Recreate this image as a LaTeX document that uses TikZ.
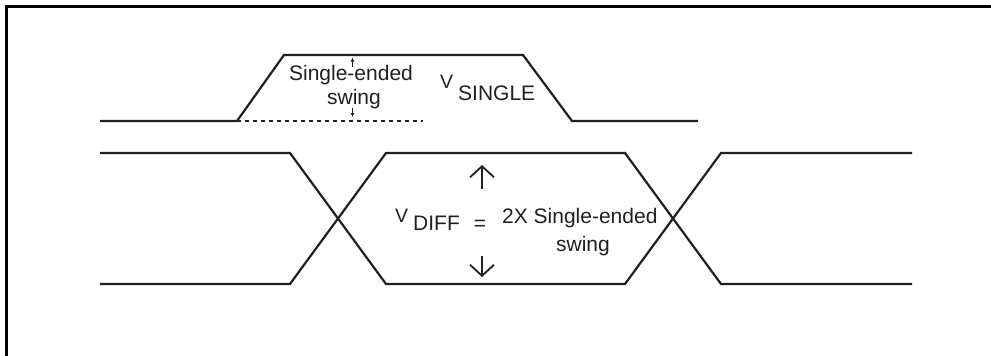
\documentclass[tikz,border=0pt]{standalone}
\usepackage{fontspec}
\setmainfont{Liberation Sans}
\usetikzlibrary{arrows.meta}
\definecolor{ink}{RGB}{35,31,32}
\tikzset{
  sig/.style={draw=ink, line width=2.2pt, line join=miter},
  frm/.style={draw=black, line width=2.6pt},
  dsh/.style={draw=ink, line width=1.1pt, dash pattern=on 4pt off 4pt},
  tinyarr/.style={draw=ink, line width=1pt, -{Latex[length=4pt,width=4pt]}},
  bigarr/.style={draw=ink, line width=1.8pt, -{Straight Barb[length=11pt,width=24pt]}},
  lbl/.style={inner sep=0pt, text=ink, font=\fontsize{21}{24}\selectfont},
  vlbl/.style={inner sep=0pt, text=ink, font=\fontsize{19.5}{22}\selectfont},
}
\begin{document}
\begin{tikzpicture}[x=1pt,y=-1pt]
\useasboundingbox (0,0) rectangle (991,356);
% frame (only top and left visible)
\draw[frm] (6.3,356) -- (6.3,6.3) -- (991,6.3);
% single-ended waveform
\coordinate (s0) at (100,121);
\coordinate (s1) at (237,121);
\coordinate (s2) at (284,55);
\coordinate (s3) at (523,55);
\coordinate (s4) at (572,121);
\coordinate (s5) at (698,121);
\draw[sig] (s0) -- (s1) -- (s2) -- (s3) -- (s4) -- (s5);
\coordinate (d1) at (423,121);
\draw[dsh] (s1) -- (d1);
% tiny swing arrows
\coordinate (ta0) at (352.5,67);
\coordinate (ta1) at (352.5,57.5);
\coordinate (tb0) at (352.5,108);
\coordinate (tb1) at (352.5,117);
\draw[tinyarr] (ta0) -- (ta1);
\draw[tinyarr] (tb0) -- (tb1);
\node[lbl, anchor=base] (se1) at (351,80.5) {Single-ended};
\node[lbl, anchor=base] (se2) at (354,104) {swing};
\node[vlbl, anchor=base west] (vs) at (440,88) {V};
\node[lbl, anchor=base west] (vss) at (458,100) {SINGLE};
% differential waveform
\coordinate (a0) at (100,153);
\coordinate (a1) at (290,153);
\coordinate (a2) at (386,284);
\coordinate (a3) at (625,284);
\coordinate (a4) at (721,153);
\coordinate (a5) at (912,153);
\coordinate (b0) at (100,284);
\coordinate (b1) at (290,284);
\coordinate (b2) at (386,153);
\coordinate (b3) at (625,153);
\coordinate (b4) at (721,284);
\coordinate (b5) at (912,284);
\draw[sig] (a0) -- (a1) -- (a2) -- (a3) -- (a4) -- (a5);
\draw[sig] (b0) -- (b1) -- (b2) -- (b3) -- (b4) -- (b5);
% big arrows
\coordinate (u0) at (482,189);
\coordinate (u1) at (482,165);
\coordinate (w0) at (482,256);
\coordinate (w1) at (482,277);
\draw[bigarr] (u0) -- (u1);
\draw[bigarr] (w0) -- (w1);
\node[vlbl, anchor=base west] (vd) at (395,222.5) {V};
\node[lbl, anchor=base west] (vdd) at (413,230) {DIFF};
\node[lbl, anchor=base] (eq) at (480,230) {=};
\node[lbl, anchor=base west] (tx1) at (502,223) {2X Single-ended};
\node[lbl, anchor=base] (tx2) at (583,251) {swing};
\end{tikzpicture}
\end{document}
